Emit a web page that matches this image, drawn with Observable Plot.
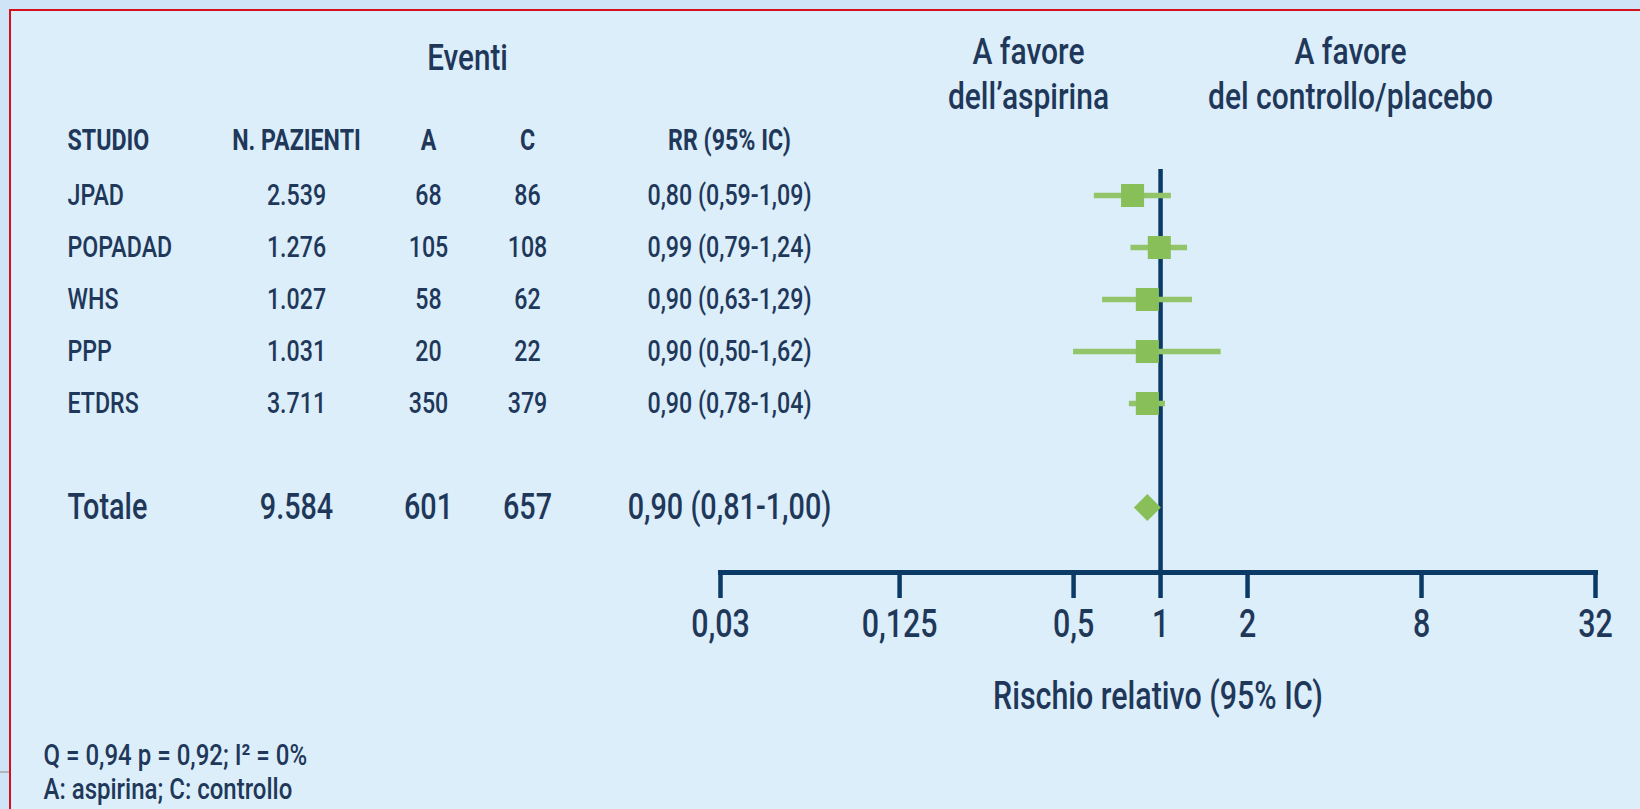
<!DOCTYPE html>
<html>
<head>
<meta charset="utf-8">
<script src="https://cdn.jsdelivr.net/npm/d3@7"></script>
<script src="https://cdn.jsdelivr.net/npm/@observablehq/plot@0.6"></script>
<style>
  html, body { margin: 0; padding: 0; width: 1640px; height: 809px; overflow: hidden; background: #cfe4f7; }
  #panel { position: absolute; left: 9px; top: 9px; right: 0; bottom: 0; background: #dceefa;
           border-top: 2.5px solid #d3101c; border-left: 2.5px solid #d3101c; }
  #greyline { position: absolute; left: 0; top: 771px; width: 9px; height: 1.5px; background: #aeb6be; }
  #chart { position: absolute; left: 0; top: 0; }
</style>
</head>
<body>
<div id="panel"></div>
<div id="greyline"></div>
<div id="chart"></div>
<script>
// ---------- data ----------
const studies   = ["JPAD", "POPADAD", "WHS", "PPP", "ETDRS"];
const patients  = [2539, 1276, 1027, 1031, 3711];
const eventsA   = [68, 105, 58, 20, 350];
const eventsC   = [86, 108, 62, 22, 379];
const rr        = [0.80, 0.99, 0.90, 0.90, 0.90];
const rrLow     = [0.59, 0.79, 0.63, 0.50, 0.78];
const rrHigh    = [1.09, 1.24, 1.29, 1.62, 1.04];

const totalLabel    = "Totale";
const totalPatients = 9584;
const totalA        = 601;
const totalC        = 657;
const totalRR       = 0.90;
const totalLow      = 0.81;
const totalHigh     = 1.00;

const tickValues = [0.03, 0.125, 0.5, 1, 2, 8, 32];
const tickLabels = ["0,03", "0,125", "0,5", "1", "2", "8", "32"];

const columnHeaders = ["STUDIO", "N. PAZIENTI", "A", "C", "RR (95% IC)"];
const eventsHeader  = "Eventi";
const favourLeft    = "A favore\ndell\u2019aspirina";
const favourRight   = "A favore\ndel controllo/placebo";
const xAxisLabel    = "Rischio relativo (95% IC)";
const footnote      = "Q = 0,94 p = 0,92; I\u00B2 = 0%\nA: aspirina; C: controllo";

// ---------- formatting ----------
const it = d3.formatLocale({decimal: ",", thousands: ".", grouping: [3], currency: ["", "\u20AC"]});
const fmtInt = it.format(",d");
const fmt2 = it.format(".2f");
const rrText = (v, l, h) => `${fmt2(v)} (${fmt2(l)}-${fmt2(h)})`;

const rows = studies.map((s, i) => ({
  row: s, study: s, n: fmtInt(patients[i]), a: String(eventsA[i]), c: String(eventsC[i]),
  rr: rr[i], lo: rrLow[i], hi: rrHigh[i], rrLabel: rrText(rr[i], rrLow[i], rrHigh[i])
}));
const total = [{
  row: "Totale", study: totalLabel, n: fmtInt(totalPatients), a: String(totalA), c: String(totalC),
  rr: totalRR, lo: totalLow, hi: totalHigh, rrLabel: rrText(totalRR, totalLow, totalHigh)
}];
const header = [{
  row: "header", study: columnHeaders[0], n: columnHeaders[1], a: columnHeaders[2],
  c: columnHeaders[3], rrLabel: columnHeaders[4]
}];

// ---------- style / layout ----------
const FONT = 'Roboto, "Liberation Sans", sans-serif';
const CONDENSE = 0.8;            // horizontal squeeze to imitate a condensed face
const TEXT = "#1f385a";
const NAVY = "#0c3a67";
const GREEN = "#88bf58";
const GREEN_LINE = "#92c46a";

const W = 1640, H = 809;
const M = {left: 720, right: 45, top: 169, bottom: 237};
// table column offsets relative to the frame's left edge
const columns = [
  {key: "study",   dx: -653, anchor: "start"},
  {key: "n",       dx: -424, anchor: "middle"},
  {key: "a",       dx: -292, anchor: "middle"},
  {key: "c",       dx: -193, anchor: "middle"},
  {key: "rrLabel", dx: 9,    anchor: "middle"}
];

const rowDomain = ["header", ...studies, "spacer", "Totale"];

const tableMarks = columns.flatMap(col => [
  Plot.text(header, {y: "row", text: col.key, frameAnchor: "left", dx: col.dx, dy: -3, textAnchor: col.anchor,
    fontSize: 29, fontWeight: 700, fill: TEXT}),
  Plot.text(rows, {y: "row", text: col.key, frameAnchor: "left", dx: col.dx, textAnchor: col.anchor,
    fontSize: 29, fill: TEXT}),
  Plot.text(total, {y: "row", text: col.key, frameAnchor: "left", dx: col.dx, textAnchor: col.anchor,
    fontSize: 36, fill: TEXT})
]);

const chart = Plot.plot({
  width: W, height: H,
  marginLeft: M.left, marginRight: M.right, marginTop: M.top, marginBottom: M.bottom,
  style: {background: "transparent", fontFamily: FONT, fontWeight: 500, color: TEXT, overflow: "visible"},
  x: {type: "log", base: 2, domain: [0.03, 32]},
  y: {type: "point", domain: rowDomain, range: [141, 509], padding: 0, axis: null},
  marks: [
    // headers
    Plot.text([eventsHeader], {frameAnchor: "top-left", dx: -253, dy: -111, lineAnchor: "middle",
      textAnchor: "middle", fontSize: 37, fill: TEXT}),
    Plot.text([favourLeft], {frameAnchor: "top-left", dx: 308, dy: -137, lineAnchor: "top",
      textAnchor: "middle", lineHeight: 1.2, fontSize: 37.5, fill: TEXT}),
    Plot.text([favourRight], {frameAnchor: "top-left", dx: 630, dy: -137, lineAnchor: "top",
      textAnchor: "middle", lineHeight: 1.2, fontSize: 37.5, fill: TEXT}),
    ...tableMarks,
    // reference line at RR = 1
    Plot.ruleX([1], {stroke: NAVY, strokeWidth: 4.5}),
    // axis
    Plot.frame({anchor: "bottom", stroke: NAVY, strokeWidth: 5, strokeLinecap: "square"}),
    Plot.axisX(tickValues, {anchor: "bottom", tickSize: 26, tickPadding: 12,
      tickFormat: d => tickLabels[tickValues.indexOf(d)],
      stroke: NAVY, strokeWidth: 4.5, fill: TEXT, fontSize: 38, label: null}),
    Plot.text([xAxisLabel], {frameAnchor: "bottom", dy: 124, lineAnchor: "middle",
      textAnchor: "middle", fontSize: 38, fill: TEXT}),
    // confidence intervals and estimates
    Plot.ruleY(rows, {y: "row", x1: "lo", x2: "hi", stroke: GREEN_LINE, strokeWidth: 5.5}),
    Plot.dot(rows, {x: "rr", y: "row", symbol: "square", r: 13, fill: GREEN, stroke: null}),
    Plot.dot(total, {x: "rr", y: "row", symbol: "diamond2", r: 12.2, fill: GREEN, stroke: null}),
    // footnote
    Plot.text([footnote], {frameAnchor: "bottom-left", dx: -677, dy: 169, lineAnchor: "top",
      textAnchor: "start", lineHeight: 1.12, fontSize: 30, fill: TEXT})
  ]
});
document.getElementById("chart").appendChild(chart);

// squeeze every text horizontally (condensed look)
chart.querySelectorAll("text").forEach(t => {
  const spans = t.querySelectorAll("tspan");
  const targets = spans.length ? Array.from(spans) : [t];
  targets.forEach(el => {
    const L = el.getComputedTextLength();
    if (L > 0) {
      el.setAttribute("textLength", (L * CONDENSE).toFixed(2));
      el.setAttribute("lengthAdjust", "spacingAndGlyphs");
    }
  });
});
</script>
</body>
</html>
